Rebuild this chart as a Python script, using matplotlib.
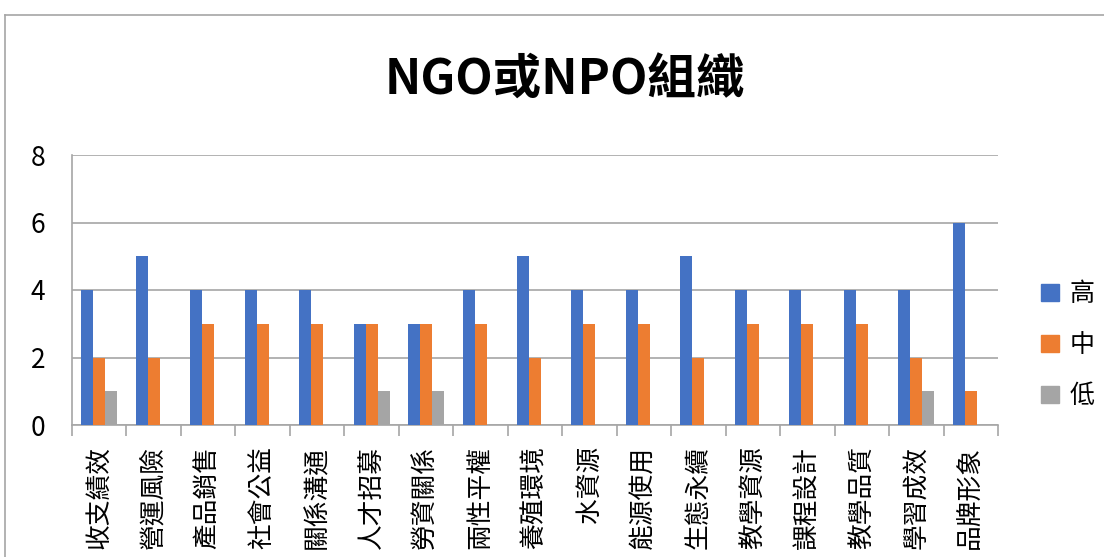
import matplotlib
matplotlib.use("Agg")
import matplotlib.pyplot as plt
import numpy as np
from matplotlib.patches import Patch
from matplotlib.lines import Line2D

plt.rcParams['font.family'] = ['Noto Sans CJK TC', 'DejaVu Sans']

title = "NGO或NPO組織"
categories = ["收支績效", "營運風險", "產品銷售", "社會公益", "關係溝通", "人才招募", "勞資關係",
              "兩性平權", "養殖環境", "水資源", "能源使用", "生態永續", "教學資源", "課程設計",
              "教學品質", "學習成效", "品牌形象"]
series_names = ["高", "中", "低"]
high = [4, 5, 4, 4, 4, 3, 3, 4, 5, 4, 4, 5, 4, 4, 4, 4, 6]
mid = [2, 2, 3, 3, 3, 3, 3, 3, 2, 3, 3, 2, 3, 3, 3, 2, 1]
low = [1, 0, 0, 0, 0, 1, 1, 0, 0, 0, 0, 0, 0, 0, 0, 1, 0]
colors = ["#4472C4", "#ED7D31", "#A5A5A5"]
yticks = [0, 2, 4, 6, 8]

W, H = 1104, 557
fig = plt.figure(figsize=(W / 100, H / 100), dpi=100)

# outer chart border (cropped)
fig.add_artist(Line2D([5 / W, 5 / W], [0, 1 - 15 / H], color="#A6A6A6", lw=1.2))
fig.add_artist(Line2D([5 / W, 1], [1 - 15 / H, 1 - 15 / H], color="#A6A6A6", lw=1.2))

ax = fig.add_axes([72 / W, 1 - 425 / H, (998 - 72) / W, (425 - 155) / H])
x = np.arange(len(categories))
bw = 0.22
for i, (vals, c) in enumerate(zip([high, mid, low], colors)):
    ax.bar(x + (i - 1) * bw, vals, width=bw, color=c, label=series_names[i], zorder=3)

ax.set_xlim(-0.5, len(categories) - 0.5)
ax.set_ylim(0, 8)
ax.set_yticks(yticks)
ax.set_yticklabels([str(v) for v in yticks], fontsize=19)
ax.tick_params(axis='y', length=0, pad=19)
ax.grid(axis='y', color="#A6A6A6", lw=1.2, zorder=0)

ax.set_xticks(x)
ax.set_xticklabels(categories, rotation=90, fontsize=18.5, va='top', ha='center')
ax.tick_params(axis='x', which='major', length=0, pad=15)
ax.set_xticks(np.arange(-0.5, len(categories)), minor=True)
ax.tick_params(axis='x', which='minor', length=8, color="#A6A6A6", width=1.2)

for s in ["top", "right"]:
    ax.spines[s].set_visible(False)
for s in ["left", "bottom"]:
    ax.spines[s].set_color("#A6A6A6")
    ax.spines[s].set_linewidth(1.2)

fig.text(565 / W, 1 - 80 / H, title, fontsize=35, fontweight='bold', ha='center', va='center')

handles = [Patch(color=c) for c in colors]
fig.legend(handles, series_names, loc='center left', bbox_to_anchor=(1031 / W, 1 - 345 / H),
           frameon=False, fontsize=18, handlelength=0.7, handleheight=0.7,
           handletextpad=0.45, labelspacing=1.0, borderaxespad=0, borderpad=0.4)

fig.savefig("out.png", dpi=100, facecolor="white")
